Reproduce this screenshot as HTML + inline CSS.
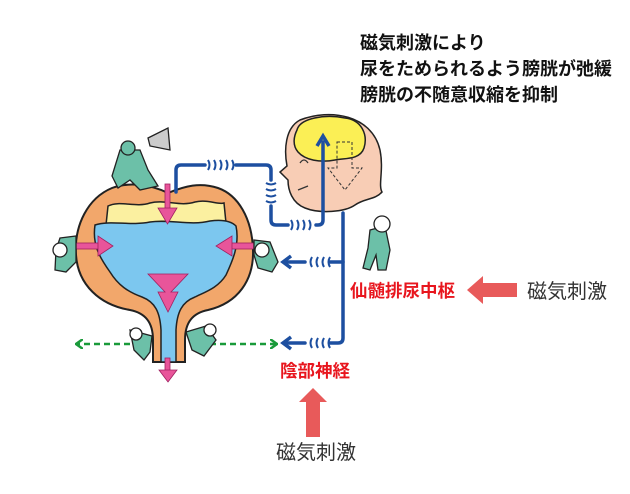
<!DOCTYPE html>
<html><head><meta charset="utf-8"><style>
html,body{margin:0;padding:0;background:#fff}
svg{display:block}
text{font-family:"Liberation Sans","Noto Sans CJK JP",sans-serif}
</style></head><body>
<svg width="630" height="494" viewBox="0 0 630 494" xmlns="http://www.w3.org/2000/svg">
<defs>
<marker id="ga" markerWidth="8" markerHeight="10" refX="7" refY="5" orient="auto" markerUnits="userSpaceOnUse"><path d="M0,0 L7,5 L0,10" fill="none" stroke="#1a9a3a" stroke-width="2.5"/></marker>
</defs>
<text x="360" y="49" font-size="18" font-weight="bold" fill="#111">磁気刺激により</text>
<text x="360" y="75" font-size="18" font-weight="bold" fill="#111">尿をためられるよう膀胱が弛緩</text>
<text x="360" y="101" font-size="18" font-weight="bold" fill="#111">膀胱の不随意収縮を抑制</text>

<path d="M168,193 C150,184 128,182 112,188 C88,198 74,225 76,255 C78,285 100,305 130,310 C145,313 153,322 153,340 L153,362 L185,362 L185,340 C185,322 193,313 208,310 C238,303 254,280 253,250 C252,218 238,195 218,188 C200,182 185,186 168,193 Z" fill="#f2a76b" stroke="#222" stroke-width="2"/>
<path d="M108,206 C120,200 135,208 150,203 C165,199 180,207 195,202 C208,199 218,205 224,203 L226,223 L106,225 Z" fill="#fbf0a0" stroke="#222" stroke-width="1.5"/>
<path d="M95,225 C110,220 130,226 150,222 C170,219 190,226 210,221 C225,219 232,222 236,226 C240,245 232,262 226,275 C218,288 205,292 195,297 C182,302 177,312 176,330 L176,362 L161,362 L161,330 C160,312 155,302 142,297 C128,292 118,285 110,272 C100,258 92,245 95,225 Z" fill="#7cc7ef" stroke="#222" stroke-width="1.5"/>

<g fill="#e8559a" stroke="#a02060" stroke-width="0.8">
<rect x="165" y="184" width="5" height="26"/><path d="M158,208 L177,208 L167.5,224 Z"/>
<rect x="72" y="243" width="28" height="6"/><path d="M98,236 L98,256 L113,246 Z"/>
<rect x="230" y="243" width="24" height="6"/><path d="M232,236 L232,256 L216,246 Z"/>
<path d="M148,274 L188,274 L171,292 L178,292 L168,312 L158,292 L165,292 Z"/>
<rect x="165" y="358" width="5" height="14"/><path d="M159,370 L177,370 L168,382 Z"/>
</g>

<line x1="150" y1="344" x2="76" y2="344" stroke="#1a9a3a" stroke-width="2.5" stroke-dasharray="6,4" marker-end="url(#ga)"/>
<line x1="200" y1="344" x2="277" y2="344" stroke="#1a9a3a" stroke-width="2.5" stroke-dasharray="6,4" marker-end="url(#ga)"/>

<path d="M300,120 C330,108 372,115 380,150 C384,170 378,185 382,192 C375,200 365,198 355,205 C345,212 320,214 305,208 C292,203 288,190 288,180 L280,172 L287,166 C284,150 285,128 300,120 Z" fill="#f8cdb5" stroke="#222" stroke-width="1.5"/>
<path d="M297,130 C300,118 325,114 345,118 C362,120 368,135 364,148 C360,160 345,158 335,160 C320,163 305,160 298,152 C292,145 294,136 297,130 Z" fill="#fbef55" stroke="#222" stroke-width="1.5"/>
<path d="M337,142 L352,142 L352,168 L362,168 L345,190 L328,168 L337,168 Z" fill="none" stroke="#333" stroke-width="1" stroke-dasharray="3,2"/>
<path d="M300,163 q4,-6 8,0" fill="none" stroke="#333" stroke-width="1.3"/>
<path d="M298,190 l10,-4" stroke="#333" stroke-width="1.3"/>

<g fill="none" stroke="#1d4fa0" stroke-width="3.5" stroke-linecap="round">
<path d="M176,192 L176,170 Q176,165 181,165 L205,165"/>
<path d="M236,165 L266,165 Q271,165 271,170 L271,180"/>
<path d="M271,206 L271,220 Q271,225 276,225 L288,225"/>
<path d="M316,225 L318,225 Q323,225 323,220 L323,142"/>
<path d="M343,213 L343,338 Q343,343 338,343 L330,343"/>
<path d="M343,262 L330,262"/>
<path d="M305,262 L285,262"/>
<path d="M305,343 L285,343"/>
</g>
<path d="M317,146 L323,136 L329,146" fill="none" stroke="#1d4fa0" stroke-width="3.5"/>
<path d="M291,256 L283,262 L291,268" fill="none" stroke="#1d4fa0" stroke-width="3.5"/>
<path d="M291,337 L283,343 L291,349" fill="none" stroke="#1d4fa0" stroke-width="3.5"/>
<g fill="none" stroke="#1d4fa0" stroke-width="2">
<path d="M208,160 q3,5 0,10 M214,160 q3,5 0,10 M220,160 q3,5 0,10 M226,160 q3,5 0,10 M232,160 q3,5 0,10"/>
<path d="M266,183 q5,3 10,0 M266,189 q5,3 10,0 M266,195 q5,3 10,0 M266,201 q5,3 10,0"/>
<path d="M291,220 q3,5 0,10 M297,220 q3,5 0,10 M303,220 q3,5 0,10 M309,220 q3,5 0,10"/>
<path d="M312,257 q-3,5 0,10 M318,257 q-3,5 0,10 M324,257 q-3,5 0,10 M330,257 q-3,5 0,10"/>
<path d="M312,338 q-3,5 0,10 M318,338 q-3,5 0,10 M324,338 q-3,5 0,10 M330,338 q-3,5 0,10"/>
</g>

<g fill="#6cc0a8" stroke="#222" stroke-width="1.3">
<path d="M120,150 L140,150 L148,170 L158,186 L140,190 L130,180 L118,188 L112,176 Z"/>
<circle cx="128" cy="148" r="7"/>
<path d="M148,138 L168,128 L170,150 L150,146 Z" fill="#ccc"/>
<path d="M60,238 L76,236 L76,262 L66,272 L55,270 L56,250 Z"/>
<circle cx="60" cy="250" r="7" fill="#fff"/>
<path d="M254,240 L270,242 L278,262 L272,272 L258,268 L254,255 Z"/>
<circle cx="262" cy="250" r="7" fill="#fff"/>
<path d="M130,330 L152,336 L150,352 L144,360 L134,350 Z"/>
<circle cx="136" cy="334" r="6" fill="#fff"/>
<path d="M186,332 L206,326 L216,340 L204,356 L192,350 Z"/>
<circle cx="210" cy="330" r="6" fill="#fff"/>
<path d="M370,230 L385,226 L390,250 L386,270 L378,270 L376,255 L370,270 L363,268 L368,248 Z"/>
<circle cx="382" cy="224" r="8" fill="#fff"/>
</g>

<text x="350" y="297" font-size="17.5" font-weight="bold" fill="#e8161e">仙髄排尿中枢</text>
<path d="M467,290 L483,276 L483,283 L517,283 L517,297 L483,297 L483,304 Z" fill="#e85a5a"/>
<text x="527" y="298" font-size="20" fill="#333">磁気刺激</text>
<text x="280" y="377" font-size="17.5" font-weight="bold" fill="#e8161e">陰部神経</text>
<path d="M313,388 L327,402 L320,402 L320,437 L306,437 L306,402 L299,402 Z" fill="#e85a5a"/>
<text x="276" y="459" font-size="20" fill="#333">磁気刺激</text>
</svg>
</body></html>
